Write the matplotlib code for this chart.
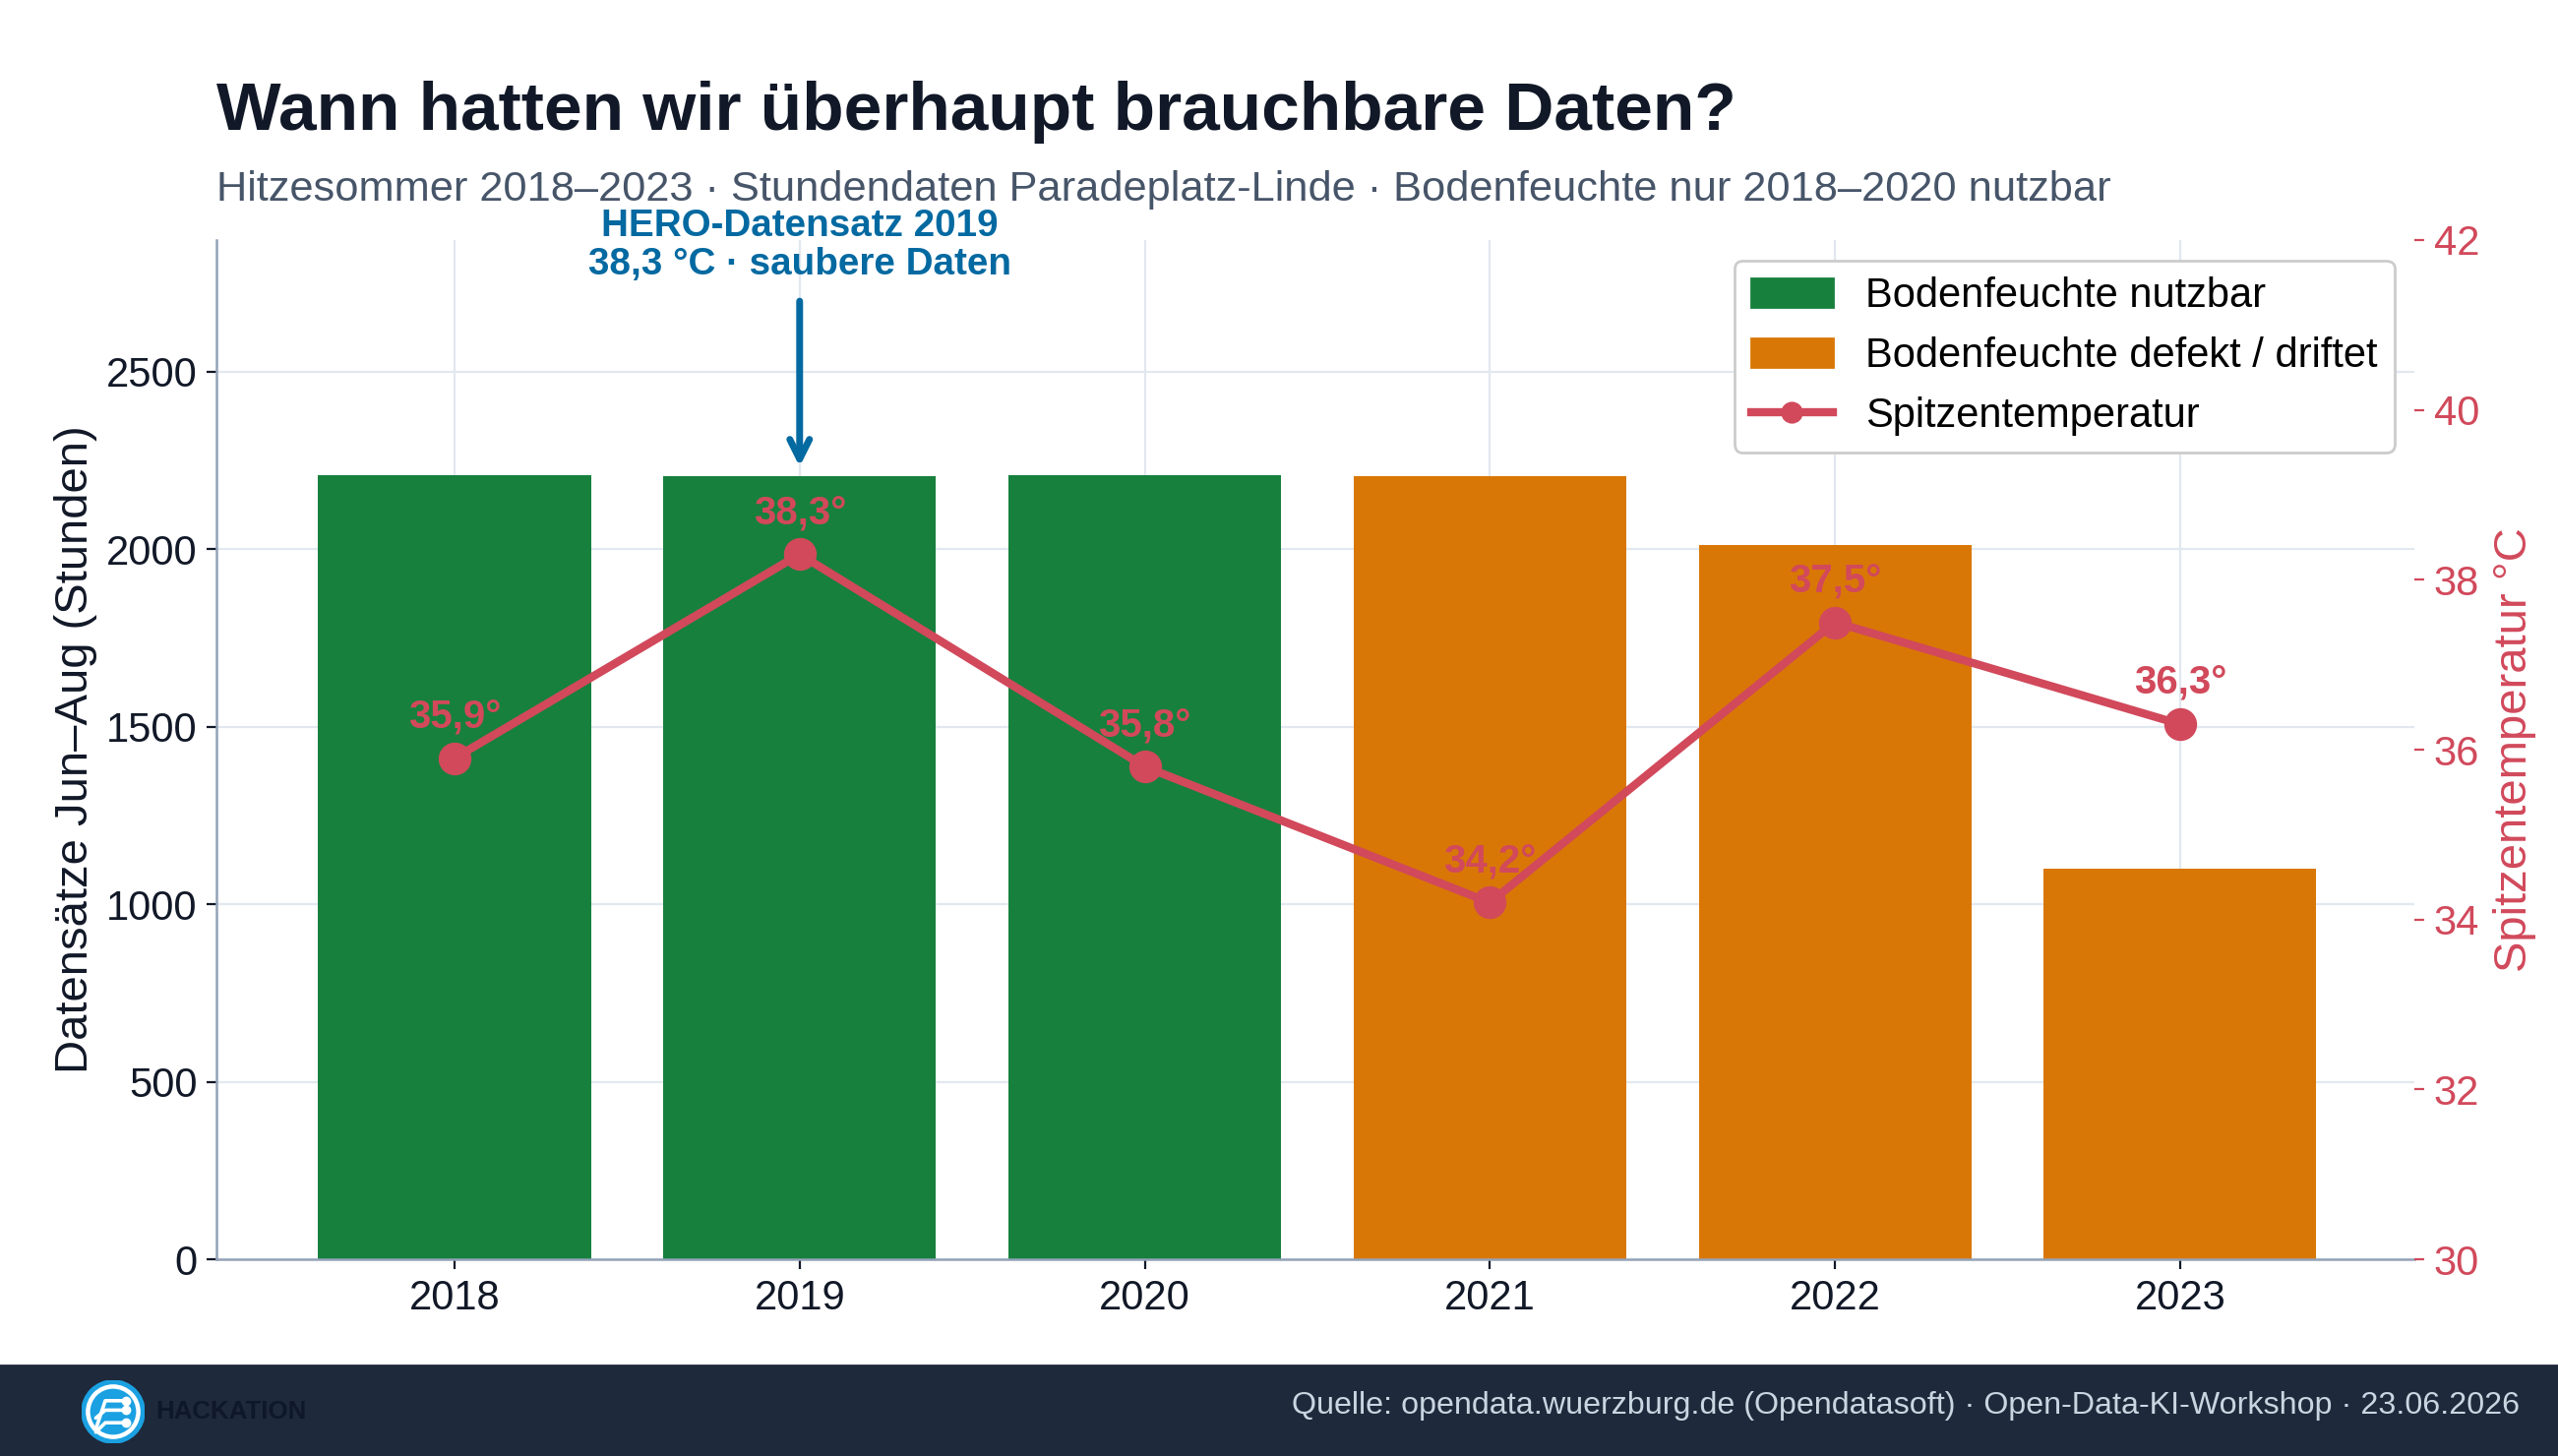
import matplotlib
matplotlib.use("Agg")
import matplotlib.pyplot as plt
from matplotlib.patches import Patch, Rectangle, Circle
from matplotlib.lines import Line2D

plt.rcParams['font.family'] = ['Liberation Sans', 'DejaVu Sans']

years = ['2018', '2019', '2020', '2021', '2022', '2023']
hours = [2208, 2205, 2208, 2206, 2012, 1100]
usable = [True, True, True, False, False, False]
peak_temp = [35.9, 38.3, 35.8, 34.2, 37.5, 36.3]

GREEN = '#17803d'
ORANGE = '#d97706'
RED = '#d1495b'
BLUE = '#0369a1'
DARK = '#111827'

fig = plt.figure(figsize=(13, 7.4), dpi=200)
ax = fig.add_axes([0.0846, 0.135, 0.8594, 0.7002])
ax2 = ax.twinx()

x = list(range(len(years)))
colors = [GREEN if u else ORANGE for u in usable]
ax.bar(x, hours, width=0.79, color=colors, zorder=2)
ax.set_xlim(-0.69, 5.68)
ax.set_ylim(0, max(hours) * 1.3)
ax.set_xticks(x)
ax.set_xticklabels(years)
ax.set_yticks([0, 500, 1000, 1500, 2000, 2500])
ax.grid(True, color='#e2e8f0', linewidth=0.8)
ax.set_axisbelow(True)
ax.tick_params(labelsize=15, colors=DARK, length=3.5)
ax.set_ylabel('Datensätze Jun–Aug (Stunden)', fontsize=17, color=DARK, labelpad=3)
for s in ['top', 'right']:
    ax.spines[s].set_visible(False)
for s in ['left', 'bottom']:
    ax.spines[s].set_color('#94a3b8')
    ax.spines[s].set_linewidth(0.9)

# Temperaturlinie
ax2.plot(x, peak_temp, color=RED, lw=3, marker='o', ms=11, zorder=3)
for xi, t in zip(x, peak_temp):
    ax2.annotate(f'{t:.1f}°'.replace('.', ','), (xi, t), xytext=(0, 8),
                 textcoords='offset points', ha='center', va='bottom',
                 fontsize=14.5, fontweight='bold', color=RED)
ax2.set_ylim(30, 42)
ax2.set_yticks([30, 32, 34, 36, 38, 40, 42])
ax2.tick_params(labelsize=15, colors=RED, length=3.5)
ax2.set_ylabel('Spitzentemperatur °C', fontsize=17, color=RED, labelpad=5)
for s in ['top', 'right', 'left', 'bottom']:
    ax2.spines[s].set_visible(False)

# HERO annotation
ax.annotate('HERO-Datensatz 2019\n38,3 °C · saubere Daten', xy=(1, 2232), xytext=(1, 2752),
            ha='center', va='bottom', fontsize=13.9, fontweight='bold', color=BLUE,
            linespacing=1.08, annotation_clip=False,
            arrowprops=dict(arrowstyle='->', color=BLUE, lw=2.5, shrinkA=5, shrinkB=0,
                            mutation_scale=18))

handles = [Patch(color=GREEN, label='Bodenfeuchte nutzbar'),
           Patch(color=ORANGE, label='Bodenfeuchte defekt / driftet'),
           Line2D([0], [0], color=RED, lw=3, marker='o', ms=7, label='Spitzentemperatur')]
leg = ax2.legend(handles=handles, loc='upper right', fontsize=15, frameon=True,
                 framealpha=1, edgecolor='#cccccc', fancybox=True)

fig.text(0.0846, 0.911, 'Wann hatten wir überhaupt brauchbare Daten?', fontsize=25,
         fontweight='bold', color=DARK, ha='left', va='baseline')
fig.text(0.0846, 0.862, 'Hitzesommer 2018–2023 · Stundendaten Paradeplatz-Linde · '
         'Bodenfeuchte nur 2018–2020 nutzbar', fontsize=15.6, color='#475569',
         ha='left', va='baseline')

# footer
fig.patches.append(Rectangle((0, 0), 1, 92 / 1480, transform=fig.transFigure,
                             color='#1e293b', zorder=-1))
fig.text(0.985, 0.0345, 'Quelle: opendata.wuerzburg.de (Opendatasoft) · Open-Data-KI-Workshop · 23.06.2026',
         fontsize=11.6, color='#cbd5e1', ha='right', va='center')
fig.text(0.0608, 0.0304, 'HACKATION', fontsize=9.3, fontweight='bold', color='#0f172a',
         ha='left', va='center')

logo = fig.add_axes([(115 - 32) / 2600, (45 - 32) / 1480, 64 / 2600, 64 / 1480])
logo.set_xlim(-1, 1)
logo.set_ylim(-1, 1)
logo.set_aspect('equal')
logo.axis('off')
logo.add_patch(Circle((0, 0), 0.98, color='#1ba1e2'))
logo.add_patch(Circle((0, 0), 0.8, fill=False, ec='white', lw=1.6))
for y0, y1 in [(-0.55, 0.35), (-0.2, 0.05), (-0.65, -0.35)]:
    logo.plot([-0.55, -0.25, 0.35], [y0, y1, y1], color='white', lw=1.3, solid_capstyle='round')
    logo.plot([0.4], [y1], 'o', color='white', ms=2.5)

fig.savefig('out.png', dpi=200)
